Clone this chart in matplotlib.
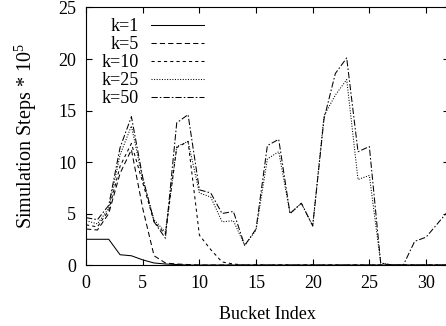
import numpy as np
import matplotlib
matplotlib.use("Agg")
import matplotlib.pyplot as plt

plt.rcParams["font.family"] = ["Liberation Serif", "DejaVu Serif"]
plt.rcParams["mathtext.fontset"] = "custom"
plt.rcParams["mathtext.rm"] = "Liberation Serif"

# bucket index 0..32 (last one only partly visible)
buckets = np.arange(33)

k1 = [2.5, 2.5, 2.5, 1.0, 0.9, 0.5, 0.2, 0.1, 0.05, 0, 0, 0, 0, 0, 0, 0, 0,
      0, 0, 0, 0, 0, 0, 0, 0, 0, 0, 0, 0, 0, 0, 0, 0]
k5 = [3.5, 3.4, 5.0, 8.9, 11.2, 5.5, 0.9, 0.2, 0.1, 0.05, 0, 0, 0, 0, 0, 0, 0,
      0, 0, 0, 0, 0, 0, 0, 0, 0, 0, 0, 0, 0, 0, 0, 0]
k10 = [3.9, 3.7, 5.3, 9.6, 11.8, 8.0, 4.2, 3.0, 11.4, 12.0, 2.9, 1.5, 0.3, 0.1,
       0, 0, 0, 0, 0, 0, 0, 0, 0, 0, 0, 0, 0, 0, 0, 0, 0, 0, 0]
k25 = [4.3, 4.0, 5.5, 10.7, 13.5, 8.3, 4.4, 3.2, 11.5, 12.0, 7.0, 6.6, 4.2, 4.3,
       1.9, 3.4, 10.3, 11.0, 5.0, 6.0, 3.8, 14.5, 16.5, 18.0, 8.3, 8.7, 0.2,
       0, 0, 0, 0, 0, 0]
k50 = [4.6, 4.4, 5.8, 11.4, 14.4, 8.5, 4.2, 2.6, 13.8, 14.6, 7.3, 7.0, 5.0, 5.2,
       1.9, 3.5, 11.6, 12.2, 5.0, 6.0, 3.8, 14.2, 18.6, 20.1, 11.0, 11.5, 0.2,
       0, 0, 2.3, 2.7, 4.0, 5.3]

labels = ["k=1", "k=5", "k=10", "k=25", "k=50"]
styles = ["-", (0, (5, 3)), (0, (3, 3)), (0, (1, 1.5)), (0, (6, 2, 1.5, 2))]

fig = plt.figure(figsize=(4.46, 3.26), dpi=100)
ax = fig.add_axes([0.193, 0.187, 0.813, 0.790])

for series, lab, ls in zip([k1, k5, k10, k25, k50], labels, styles):
    ax.plot(buckets, series, color="black", lw=0.75, linestyle=ls, label=lab)

ax.set_xlim(0, 32)
ax.set_ylim(0, 25)
ax.set_xticks(range(0, 31, 5))
ax.set_yticks(range(0, 26, 5))
ax.tick_params(direction="in", length=4, width=0.8, top=True, right=True,
               labelsize=13, pad=7)
for sp in ax.spines.values():
    sp.set_linewidth(0.8)

ax.set_xlabel("Bucket Index", fontsize=13, labelpad=10)
ax.set_ylabel("Simulation Steps * 10$^5$", fontsize=14.5, labelpad=14)

leg = ax.legend(loc="upper left", bbox_to_anchor=(0.012, 1.0), frameon=False,
                markerfirst=False, fontsize=13, handlelength=2.9,
                handletextpad=0.7, labelspacing=0.05, borderaxespad=0.2)

fig.savefig("out.png", dpi=100)
